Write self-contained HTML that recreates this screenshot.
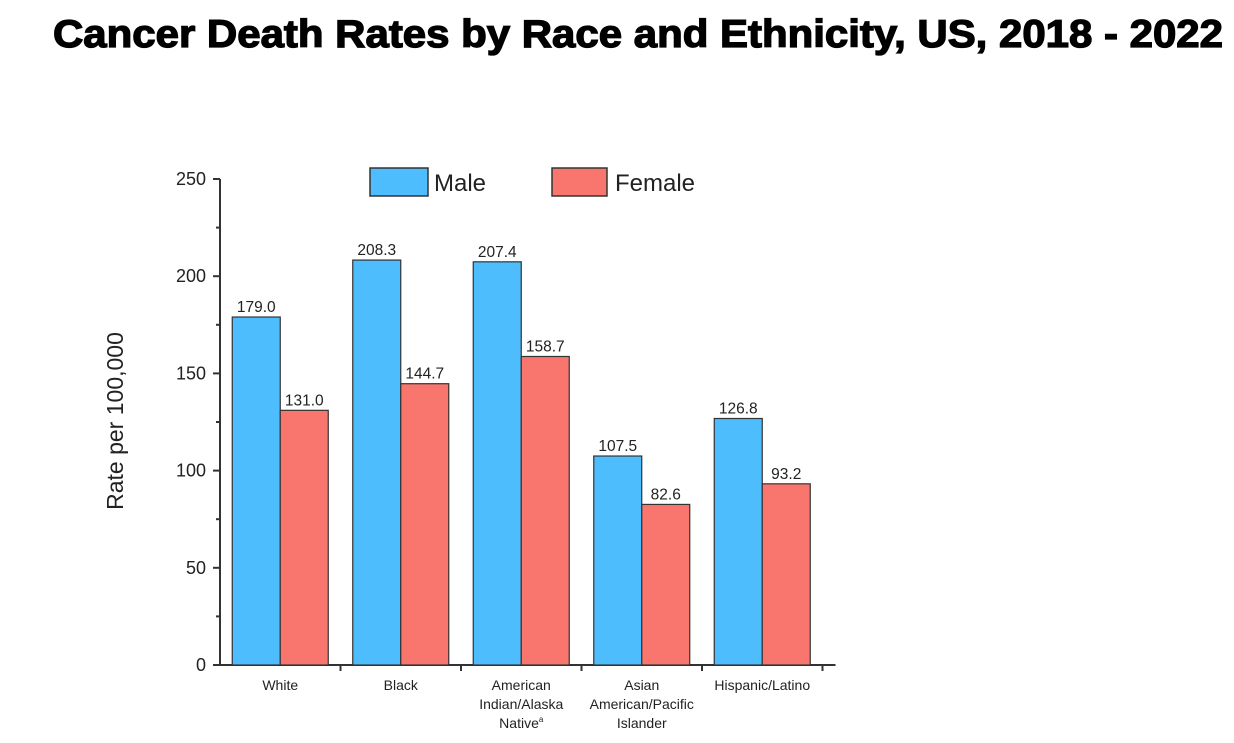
<!DOCTYPE html>
<html><head><meta charset="utf-8"><style>
body{margin:0;background:#fff;}
svg{display:block;font-family:"Liberation Sans",Arial,sans-serif;}
</style></head><body>
<svg id="chart" width="1234" height="743" viewBox="0 0 1234 743">
<text x="638" y="47" text-anchor="middle" font-size="39" font-weight="bold" stroke="#000" stroke-width="1.3" textLength="1170" lengthAdjust="spacingAndGlyphs" fill="#000">Cancer Death Rates by Race and Ethnicity, US, 2018 - 2022</text>
<text transform="translate(123,421) rotate(-90)" text-anchor="middle" font-size="23" fill="#222">Rate per 100,000</text>
<g>
<rect x="370" y="168" width="58" height="28" fill="#4dbdfd" stroke="#333" stroke-width="1.5"/>
<text x="434" y="191" font-size="24" fill="#222">Male</text>
<rect x="552" y="168" width="55" height="28" fill="#f8766d" stroke="#333" stroke-width="1.5"/>
<text x="615" y="191" font-size="24" fill="#222">Female</text>
</g>
<g id="plot"></g>
</svg>
<script>
const categories=[["White"],["Black"],["American","Indian/Alaska","Native"],["Asian","American/Pacific","Islander"],["Hispanic/Latino"]];
const maleValues=[179.0,208.3,207.4,107.5,126.8];
const femaleValues=[131.0,144.7,158.7,82.6,93.2];
const yTicks=[0,50,100,150,200,250];
const X0=220,BAND=120.5,BW=48,Y0=665,YMAX=250,YPX=486;
function y(v){return Y0-v/YMAX*YPX;}
function xc(i){return X0+BAND*(i+0.5);}
const NS="http://www.w3.org/2000/svg";
const g=document.getElementById('plot');
function el(t,a,txt){const e=document.createElementNS(NS,t);for(const k in a)e.setAttribute(k,a[k]);if(txt!==undefined)e.textContent=txt;g.appendChild(e);return e;}
const ya=el('line',{x1:X0,y1:y(YMAX),x2:X0,y2:Y0+1,stroke:'#333','stroke-width':2});


const xa=el('line',{x1:X0-1,y1:Y0,x2:X0+BAND*categories.length+13,y2:Y0,stroke:'#333','stroke-width':2});


yTicks.forEach((t,i)=>{
  const tk=el('line',{x1:X0-7,y1:y(t),x2:X0,y2:y(t),stroke:'#333','stroke-width':2});
  
  
  if(i<yTicks.length-1){const m=el('line',{x1:X0-4,y1:y(t+25),x2:X0,y2:y(t+25),stroke:'#333','stroke-width':2});
    
    }
  const lb=el('text',{x:X0-14,y:y(t)+6,'text-anchor':'end','font-size':18,fill:'#222'},String(t));
  
  
});
categories.forEach((c,i)=>{
  const tx=X0+BAND*(i+1);
  const tk=el('line',{x1:tx,y1:Y0,x2:tx,y2:Y0+6,stroke:'#333','stroke-width':2});
  
  
  const cx=xc(i);
  const m=el('rect',{x:cx-BW,y:y(maleValues[i]),width:BW,height:Y0-y(maleValues[i]),fill:'#4dbdfd',stroke:'#333','stroke-width':1.2});
  
  
  const f=el('rect',{x:cx,y:y(femaleValues[i]),width:BW,height:Y0-y(femaleValues[i]),fill:'#f8766d',stroke:'#333','stroke-width':1.2});
  
  
  const ml=el('text',{x:cx-BW/2,y:y(maleValues[i])-5,'text-anchor':'middle','font-size':15.5,fill:'#222'},maleValues[i].toFixed(1));
  
  
  const fl=el('text',{x:cx+BW/2,y:y(femaleValues[i])-5,'text-anchor':'middle','font-size':15.5,fill:'#222'},femaleValues[i].toFixed(1));
  
  
  c.forEach((line,j)=>{
    const t=el('text',{x:cx,y:Y0+25+j*19,'text-anchor':'middle','font-size':14,fill:'#222'},line);
    
    
    if(i===2&&j===2){const s=document.createElementNS(NS,'tspan');s.setAttribute('font-size','8');s.setAttribute('dy','-6');s.textContent='a';t.appendChild(s);}
  });
});
</script>
</body></html>
